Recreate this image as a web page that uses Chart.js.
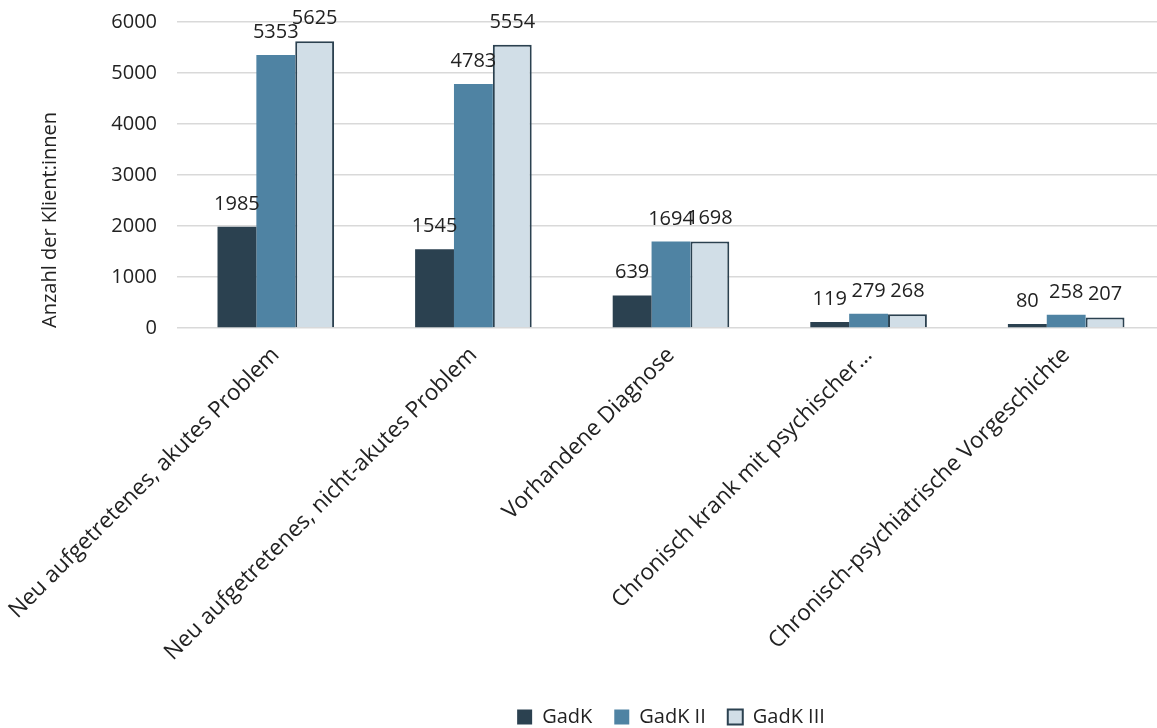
<!DOCTYPE html>
<html>
<head>
<meta charset="utf-8">
<script src="https://cdn.jsdelivr.net/npm/chart.js@4/dist/chart.umd.min.js"></script>
<style>
  html, body { margin: 0; padding: 0; background: #ffffff; overflow: hidden; width: 1157px; height: 728px; }
  #wrap { width: 1165px; height: 728px; }
</style>
</head>
<body>
<div id="wrap"><canvas id="c" width="1165" height="728"></canvas></div>
<script>
const categories = [
  "Neu aufgetretenes, akutes Problem",
  "Neu aufgetretenes, nicht-akutes Problem",
  "Vorhandene Diagnose",
  "Chronisch krank mit psychischer…",
  "Chronisch-psychiatrische Vorgeschichte"
];
const seriesNames = ["GadK", "GadK II", "GadK III"];
const gadk = [1985, 1545, 639, 119, 80];
const gadk2 = [5353, 4783, 1694, 279, 258];
const gadk3 = [5625, 5554, 1698, 268, 207];
const yTicks = [0, 1000, 2000, 3000, 4000, 5000, 6000];
const yTitle = "Anzahl der Klient:innen";

const FONT = "'Open Sans', 'Noto Sans', sans-serif";
const TEXT = "#222222";

const valueLabels = {
  id: 'valueLabels',
  afterDatasetsDraw(chart) {
    const ctx = chart.ctx;
    ctx.save();
    ctx.font = "20px " + FONT;
    ctx.fillStyle = TEXT;
    ctx.textAlign = 'center';
    ctx.textBaseline = 'alphabetic';
    chart.data.datasets.forEach((ds, i) => {
      const meta = chart.getDatasetMeta(i);
      meta.data.forEach((bar, j) => {
        ctx.fillText(String(ds.data[j]), bar.x, bar.y - 17);
      });
    });
    ctx.restore();
  }
};

new Chart(document.getElementById('c'), {
  type: 'bar',
  data: {
    labels: categories,
    datasets: [
      { label: seriesNames[0], data: gadk, backgroundColor: '#2B4150', borderWidth: 0 },
      { label: seriesNames[1], data: gadk2, backgroundColor: '#4F83A3', borderWidth: 0 },
      { label: seriesNames[2], data: gadk3, backgroundColor: '#D1DEE7', borderColor: '#2B4150', borderWidth: 2 }
    ]
  },
  options: {
    responsive: false,
    animation: false,
    layout: { padding: { top: 22, right: 0, left: 38, bottom: -9 } },
    datasets: { bar: { categoryPercentage: 0.59, barPercentage: 1.0 } },
    scales: {
      x: {
        afterFit(axis) { axis.height = 357; axis.paddingLeft = 0; axis.paddingRight = 0; },
        grid: { display: false, drawTicks: false },
        border: { display: false },
        ticks: {
          minRotation: 45, maxRotation: 45, autoSkip: false,
          padding: 14,
          color: TEXT,
          font: { family: FONT, size: 22.5 }
        }
      },
      y: {
        min: 0, max: 6000,
        afterBuildTicks(axis) { axis.ticks = yTicks.map(v => ({ value: v })); },
        afterFit(axis) { axis.width = 139; axis.paddingTop = 0; axis.paddingBottom = 0; },
        grid: { color: '#D9D9D9', lineWidth: 1.5, drawTicks: false },
        border: { display: false },
        ticks: { padding: 20, color: TEXT, font: { family: FONT, size: 20 }, callback: v => String(v) },
        title: { display: true, text: yTitle, align: 'start', color: TEXT, font: { family: FONT, size: 20 }, padding: { top: 0, bottom: 0 } }
      }
    },
    plugins: {
      legend: {
        position: 'bottom',
        fullSize: false,
        labels: { color: TEXT, font: { family: FONT, size: 20 }, boxWidth: 15, boxHeight: 15, padding: 22 }
      },
      tooltip: { enabled: false }
    }
  },
  plugins: [valueLabels]
});
</script>
</body>
</html>
